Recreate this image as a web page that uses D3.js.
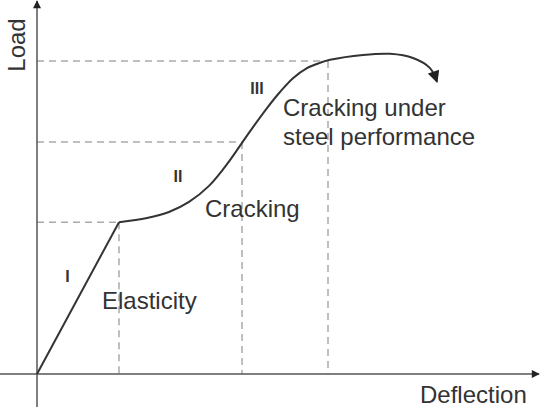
<!DOCTYPE html>
<html>
<head>
<meta charset="utf-8">
<script src="https://cdn.jsdelivr.net/npm/d3@7"></script>
<style>
    body { margin: 0; background: #fff; }
    svg text { font-family: 'Liberation Sans', Arial, sans-serif; fill: #333; }
    .axis-line { stroke: #555; stroke-width: 1.5; }
    .guide { stroke: #aaa; stroke-width: 1.5; stroke-dasharray: 7,5; }
    .curve { fill: none; stroke: #333; stroke-width: 2; }
    .name { font-size: 24px; }
    .numeral { font-size: 16px; font-weight: bold; }
</style>
</head>
<body>
<div id="chart"></div>
<script>
// Chart data (deflection, load in arbitrary units 0-100)
let xTitle = 'Deflection';
let yTitle = 'Load';

// Linear elastic branch
let elasticDeflection = [0, 16.4];
let elasticLoad = [0, 40.6];

// Cracking + steel branch, ending in the arrow
let curveDeflection = [16.4, 22.0, 26.4, 30.4, 34.4, 38.0, 41.0, 43.2, 46.0, 48.6, 51.2, 54.0, 56.6, 58.6, 65.2, 70.6, 75.2, 78.6, 80.0];
let curveLoad = [40.6, 41.7, 43.3, 46.0, 50.3, 56.1, 61.8, 66.0, 71.1, 75.4, 79.1, 81.8, 83.2, 84.0, 85.3, 85.6, 84.5, 81.8, 78.1];

// End of each stage (guide lines)
let stageDeflection = [16.4, 41.0, 58.2];
let stageLoad = [40.6, 62.0, 83.7];

let stageNumerals = ['I', 'II', 'III'];
let stageNames = [['Elasticity'], ['Cracking'], ['Cracking under', 'steel performance']];

function createChart() {
    let width = 543, height = 409;

    // Scale functions
    let scX = d3.scaleLinear().domain([0, 100]).range([37, 537]);
    let scY = d3.scaleLinear().domain([0, 100]).range([374, 0]);

    let svg = d3.select('#chart')
        .append('svg')
            .attr('width', width)
            .attr('height', height);

    let defs = svg.append('defs');
    defs.append('marker')
        .attr('id', 'axis-arrow')
        .attr('viewBox', '0 0 10 10')
        .attr('refX', 9).attr('refY', 5)
        .attr('markerWidth', 10).attr('markerHeight', 8)
        .attr('markerUnits', 'userSpaceOnUse')
        .attr('orient', 'auto')
        .append('path')
            .attr('d', 'M0,0 L10,5 L0,10 Z')
            .attr('fill', '#222');
    defs.append('marker')
        .attr('id', 'curve-arrow')
        .attr('viewBox', '0 0 10 10')
        .attr('refX', 9).attr('refY', 5)
        .attr('markerWidth', 14).attr('markerHeight', 12)
        .attr('markerUnits', 'userSpaceOnUse')
        .attr('orient', 'auto')
        .append('path')
            .attr('d', 'M0,0 L10,5 L0,10 Z')
            .attr('fill', '#222');

    // Dashed guide lines
    stageDeflection.forEach((dx, i) => {
        let ly = stageLoad[i];
        svg.append('line')
            .attr('class', 'guide')
            .attr('x1', scX(0)).attr('x2', scX(dx))
            .attr('y1', scY(ly)).attr('y2', scY(ly));
        svg.append('line')
            .attr('class', 'guide')
            .attr('x1', scX(dx)).attr('x2', scX(dx))
            .attr('y1', scY(ly)).attr('y2', scY(0));
    });

    // Axes with arrows
    svg.append('line')
        .attr('class', 'axis-line')
        .attr('x1', scX(0)).attr('x2', scX(0))
        .attr('y1', height - 2).attr('y2', 1)
        .attr('marker-end', 'url(#axis-arrow)');
    svg.append('line')
        .attr('class', 'axis-line')
        .attr('x1', 0).attr('x2', 539)
        .attr('y1', scY(0)).attr('y2', scY(0))
        .attr('marker-end', 'url(#axis-arrow)');

    // Curves
    let elastic = elasticDeflection.map((d, i) => [d, elasticLoad[i]]);
    let cracking = curveDeflection.map((d, i) => [d, curveLoad[i]]);

    svg.append('path')
        .attr('class', 'curve')
        .attr('d', d3.line().x(d => scX(d[0])).y(d => scY(d[1]))(elastic));
    svg.append('path')
        .attr('class', 'curve')
        .attr('marker-end', 'url(#curve-arrow)')
        .attr('d', d3.line()
            .curve(d3.curveCatmullRom.alpha(0.5))
            .x(d => scX(d[0])).y(d => scY(d[1]))(cracking));

    // Axis titles
    svg.append('text')
        .attr('class', 'name')
        .attr('transform', 'translate(25,45) rotate(-90)')
        .attr('text-anchor', 'middle')
        .text(yTitle);
    svg.append('text')
        .attr('class', 'name')
        .attr('x', 420).attr('y', 403)
        .text(xTitle);

    // Stage numerals
    let numeralPos = [[67.5, 282], [178, 182], [257, 94]];
    stageNumerals.forEach((t, i) => {
        svg.append('text')
            .attr('class', 'numeral')
            .attr('text-anchor', 'middle')
            .attr('x', numeralPos[i][0]).attr('y', numeralPos[i][1])
            .text(t);
    });

    // Stage names
    let namePos = [[102, 309], [205, 217], [283, 116]];
    stageNames.forEach((lines, i) => {
        let txt = svg.append('text')
            .attr('class', 'name')
            .attr('x', namePos[i][0]).attr('y', namePos[i][1]);
        lines.forEach((l, j) => {
            txt.append('tspan')
                .attr('x', namePos[i][0])
                .attr('dy', j === 0 ? 0 : 28.5)
                .text(l);
        });
    });
}

createChart();
</script>
</body>
</html>
